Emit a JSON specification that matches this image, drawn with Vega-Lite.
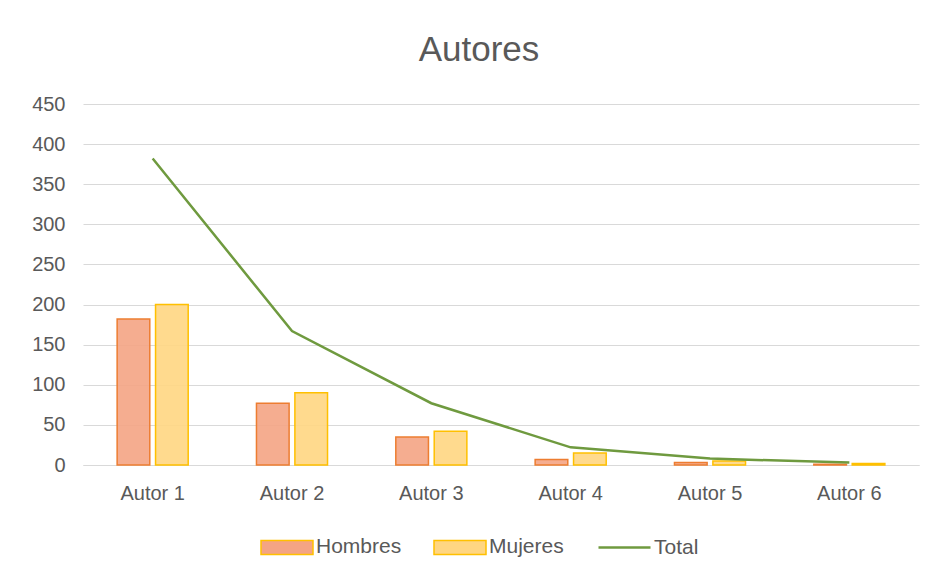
{
  "$schema": "https://vega.github.io/schema/vega-lite/v6.json",
  "autosize": "none",
  "width": 836,
  "height": 361,
  "padding": {"left": 83, "top": 104, "right": 30, "bottom": 121},
  "background": "white",
  "config": {
    "font": "Liberation Sans",
    "view": {"stroke": null},
    "axis": {"labelColor": "#595959", "labelFontSize": 20, "grid": false, "ticks": false, "domain": false, "title": null}
  },
  "title": {"text": "Autores", "fontSize": 35, "fontWeight": "normal", "color": "#595959", "offset": 26, "dx": -22, "anchor": "middle"},
  "datasets": {
    "barras": [
      {"autor": "Autor 1", "serie": "Hombres", "valor": 182},
      {"autor": "Autor 1", "serie": "Mujeres", "valor": 200},
      {"autor": "Autor 2", "serie": "Hombres", "valor": 77},
      {"autor": "Autor 2", "serie": "Mujeres", "valor": 90},
      {"autor": "Autor 3", "serie": "Hombres", "valor": 35},
      {"autor": "Autor 3", "serie": "Mujeres", "valor": 42},
      {"autor": "Autor 4", "serie": "Hombres", "valor": 7},
      {"autor": "Autor 4", "serie": "Mujeres", "valor": 15},
      {"autor": "Autor 5", "serie": "Hombres", "valor": 3},
      {"autor": "Autor 5", "serie": "Mujeres", "valor": 5},
      {"autor": "Autor 6", "serie": "Hombres", "valor": 1},
      {"autor": "Autor 6", "serie": "Mujeres", "valor": 2}
    ],
    "total": [
      {"autor": "Autor 1", "total": 382},
      {"autor": "Autor 2", "total": 167},
      {"autor": "Autor 3", "total": 77},
      {"autor": "Autor 4", "total": 22},
      {"autor": "Autor 5", "total": 8},
      {"autor": "Autor 6", "total": 3}
    ]
  },
  "encoding": {
    "x": {"field": "autor", "type": "nominal", "sort": null,
      "scale": {"paddingInner": 0.49, "paddingOuter": 0.245},
      "axis": {"labelAngle": 0, "labelPadding": 18, "domain": true, "domainColor": "#D9D9D9", "domainWidth": 1}}
  },
  "layer": [
    {
      "data": {"name": "barras"},
      "mark": {"type": "bar", "strokeWidth": 1.5, "fillOpacity": 0.9},
      "encoding": {
        "xOffset": {"field": "serie", "type": "nominal", "scale": {"paddingInner": 0.15}},
        "y": {"field": "valor", "type": "quantitative",
          "scale": {"domain": [0, 450]},
          "axis": {"values": [0, 50, 100, 150, 200, 250, 300, 350, 400, 450], "grid": true, "gridColor": "#D9D9D9", "gridWidth": 1, "labelPadding": 18}},
        "fill": {"field": "serie", "type": "nominal",
          "scale": {"domain": ["Hombres", "Mujeres"], "range": ["#F4A484", "#FFD682"]},
          "legend": {"orient": "none", "legendX": 177, "legendY": 416, "direction": "horizontal", "title": null,
            "symbolType": "M-1,-0.27H1V0.27H-1Z", "symbolSize": 2704, "symbolStrokeWidth": 1.5,
            "labelFontSize": 21, "labelColor": "#595959", "labelOffset": 2, "columnPadding": 29,
            "encode": {"symbols": {"update": {"stroke": {"signal": "datum.value === 'Hombres' ? '#ED7D31' : '#FFC000'"}}}}}},
        "stroke": {"condition": {"test": "datum.serie === 'Hombres'", "value": "#ED7D31"}, "value": "#FFC000"}
      }
    },
    {
      "data": {"name": "total"},
      "mark": {"type": "line", "strokeWidth": 2.5},
      "encoding": {
        "y": {"field": "total", "type": "quantitative"},
        "stroke": {"datum": "Total", "type": "nominal",
          "scale": {"range": ["#6F9A3F"]},
          "legend": {"orient": "none", "legendX": 514, "legendY": 416, "title": null,
            "symbolType": "stroke", "symbolSize": 2704, "symbolStrokeWidth": 2.5,
            "labelFontSize": 21, "labelColor": "#595959", "labelOffset": 2}}
      }
    }
  ]
}
